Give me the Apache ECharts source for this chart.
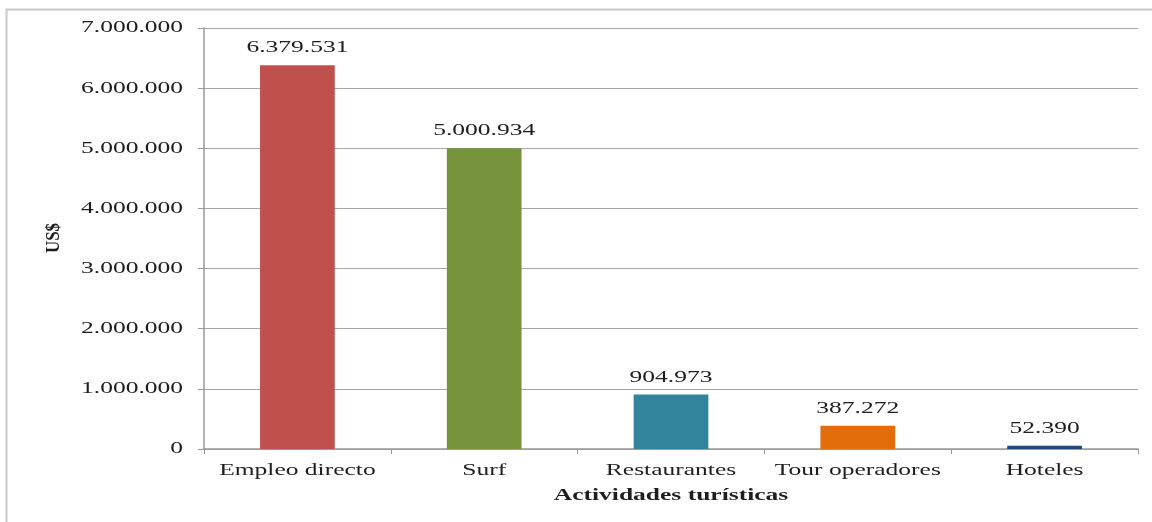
<!DOCTYPE html>
<html>
<head>
<meta charset="utf-8">
<script src="https://cdn.jsdelivr.net/npm/echarts@6/dist/echarts.min.js"></script>
<style>
  html, body { margin: 0; padding: 0; background: #fff; }
  #chart { width: 1152px; height: 522px; }
</style>
</head>
<body>
<div id="chart"></div>
<script>
var categories = ['Empleo directo', 'Surf', 'Restaurantes', 'Tour operadores', 'Hoteles'];
var values = [6379531, 5000934, 904973, 387272, 52390];
var barColors = ['#C0504D', '#77933C', '#31849B', '#E46C0A', '#1F497D'];
var yTicks = [0, 1000000, 2000000, 3000000, 4000000, 5000000, 6000000, 7000000];

function fmt(v) {
  return String(v).replace(/\B(?=(\d{3})+(?!\d))/g, '.');
}

// the original picture is stretched sideways, so texts are drawn wider
var font = '"Liberation Serif", "Times New Roman", serif';
var stretch = 1.5;
var chart = echarts.init(document.getElementById('chart'));

chart.setOption({
  animation: false,
  grid: { left: 204, right: 14, top: 28, bottom: 73 },
  xAxis: {
    type: 'category',
    data: categories,
    axisLine: { lineStyle: { color: '#999', width: 1.5 } },
    axisTick: { show: true, length: 5, lineStyle: { color: '#999' } },
    axisLabel: { show: false }
  },
  yAxis: {
    type: 'value',
    min: 0,
    max: 7000000,
    interval: 1000000,
    axisLine: { show: true, lineStyle: { color: '#999', width: 1.5 } },
    axisTick: { show: true, length: 6, lineStyle: { color: '#999' } },
    axisLabel: { show: false },
    splitLine: { lineStyle: { color: '#a6a6a6', width: 1.2 } }
  },
  series: [{
    type: 'bar',
    barWidth: '40%',
    data: values.map(function (v, i) {
      return { value: v, itemStyle: { color: barColors[i] } };
    })
  }]
});

function label(x, y, text, opts) {
  opts = opts || {};
  return {
    type: 'text',
    x: x, y: y,
    scaleX: opts.scaleX || stretch,
    scaleY: opts.scaleY || 1,
    rotation: opts.rotation || 0,
    silent: true,
    style: {
      text: text,
      x: 0, y: 0,
      align: opts.align || 'center',
      verticalAlign: opts.verticalAlign || 'middle',
      font: (opts.bold ? 'bold ' : '') + (opts.size || 17) + 'px ' + font,
      fill: opts.color || '#1e1e1e'
    }
  };
}

var graphics = [{
  type: 'rect',
  shape: { x: 6.5, y: 9.5, width: 1160, height: 540 },
  style: { fill: 'none', stroke: '#c8c8c8', lineWidth: 2 },
  silent: true
}];

yTicks.forEach(function (v) {
  var py = chart.convertToPixel({ yAxisIndex: 0 }, v);
  graphics.push(label(183, py, fmt(v), { align: 'right' }));
});

categories.forEach(function (c, i) {
  var px = chart.convertToPixel({ xAxisIndex: 0 }, c);
  graphics.push(label(px, 471, c));
  var top = chart.convertToPixel({ yAxisIndex: 0 }, values[i]);
  graphics.push(label(px, top - 9, fmt(values[i]), { verticalAlign: 'bottom' }));
});

var x0 = chart.convertToPixel({ xAxisIndex: 0 }, categories[0]);
var x4 = chart.convertToPixel({ xAxisIndex: 0 }, categories[4]);
graphics.push(label((x0 + x4) / 2, 496, 'Actividades turísticas', { bold: true, size: 17 }));

// y axis title, rotated
graphics.push(label(54, 238, 'US$', { bold: true, size: 17, rotation: Math.PI / 2, scaleX: 1, scaleY: 1.1 }));

chart.setOption({ graphic: graphics });
</script>
</body>
</html>
